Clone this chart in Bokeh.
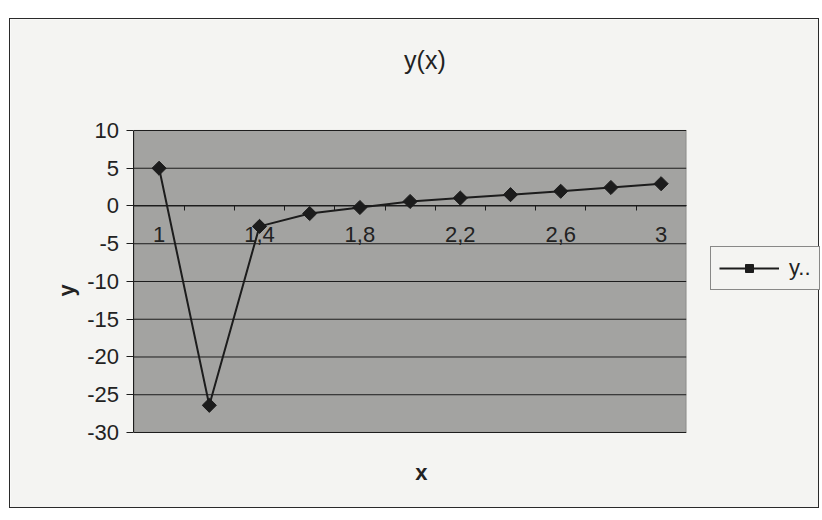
import math
from bokeh.plotting import figure
from bokeh.models import (Range1d, FixedTicker, Legend, LegendItem, Label,
                          BoxAnnotation, Spacer)
from bokeh.layouts import column, row
from bokeh.embed import file_html
from bokeh.resources import INLINE

# ---- data ----
x_vals = [1.0, 1.2, 1.4, 1.6, 1.8, 2.0, 2.2, 2.4, 2.6, 2.8, 3.0]
y_vals = [5.0, -26.4, -2.7, -1.0, -0.2, 0.6, 1.05, 1.5, 1.95, 2.45, 2.95]
x_label_ticks = [1.0, 1.4, 1.8, 2.2, 2.6, 3.0]
x_label_texts = ["1", "1,4", "1,8", "2,2", "2,6", "3"]
x_band_edges = [1.1, 1.3, 1.5, 1.7, 1.9, 2.1, 2.3, 2.5, 2.7, 2.9]
y_ticks = [-30, -25, -20, -15, -10, -5, 0, 5, 10]
y_tick_texts = ["-30", "-25", "-20", "-15", "-10", "-5", "0", "5", "10"]
plot_x_bounds = (0.9, 3.1)      # category bands: half a step either side
plot_y_bounds = (-30, 10)
series_name = "y.."
title_text = "y(x)"
x_title = "x"
y_title = "y"

FONT = "Liberation Sans"
BG = "#f4f4f2"
PLOT_BG = "#a3a3a1"
INK = "#1c1c1c"
TXT = "#222222"

# The frame spans the whole chart area; the grey plot area is drawn in data space
p = figure(width=810, height=490, output_backend="svg", toolbar_location=None,
           x_range=Range1d(0.408, 3.635), y_range=Range1d(-40.20, 24.70),
           min_border=0)
p.styles = {"border": "1px solid #2a2a2a"}
p.background_fill_color = BG
p.border_fill_color = BG
p.outline_line_color = None
p.xgrid.visible = False
p.ygrid.visible = False

p.add_layout(BoxAnnotation(left=plot_x_bounds[0], right=plot_x_bounds[1],
                           bottom=plot_y_bounds[0], top=plot_y_bounds[1],
                           fill_color=PLOT_BG, fill_alpha=1,
                           line_color="#333333", line_width=1,
                           level="underlay"))

# horizontal gridlines at the value-axis ticks
p.segment(x0=[plot_x_bounds[0]] * len(y_ticks), x1=[plot_x_bounds[1]] * len(y_ticks),
          y0=y_ticks, y1=y_ticks, line_color=INK, line_width=1)

# category axis crossing at y = 0
xa = p.xaxis[0]
xa.ticker = FixedTicker(ticks=x_label_ticks, minor_ticks=x_band_edges)
xa.major_label_overrides = {t: s for t, s in zip(x_label_ticks, x_label_texts)}
xa.fixed_location = 0
xa.bounds = plot_x_bounds
xa.axis_line_color = INK
xa.major_tick_out = 0
xa.major_tick_in = 0
xa.minor_tick_out = 5
xa.minor_tick_in = 0
xa.minor_tick_line_color = INK
xa.major_label_standoff = 16
xa.major_label_text_font = FONT
xa.major_label_text_font_size = "22px"
xa.major_label_text_color = TXT

# value axis on the left edge of the plot area
ya = p.yaxis[0]
ya.ticker = FixedTicker(ticks=y_ticks)
ya.major_label_overrides = {t: s for t, s in zip(y_ticks, y_tick_texts)}
ya.fixed_location = plot_x_bounds[0]
ya.bounds = plot_y_bounds
ya.axis_line_color = INK
ya.major_tick_out = 7
ya.major_tick_in = 0
ya.minor_tick_out = 0
ya.minor_tick_in = 0
ya.major_tick_line_color = INK
ya.major_label_standoff = 8
ya.major_label_text_font = FONT
ya.major_label_text_font_size = "22px"
ya.major_label_text_color = TXT

line = p.line(x_vals, y_vals, line_color=INK, line_width=2)
pts = p.scatter(x_vals, y_vals, marker="square", angle=math.pi / 4, size=10,
                fill_color=INK, line_color=INK)

legend = Legend(items=[LegendItem(label=series_name, renderers=[line, pts])],
                location=(700, 219), padding=8, margin=0,
                glyph_width=60, glyph_height=20, label_standoff=10,
                border_line_color=INK, border_line_width=1,
                background_fill_color=BG, background_fill_alpha=1,
                label_text_font=FONT, label_text_font_size="22px",
                label_text_color=TXT)
p.add_layout(legend, "center")

p.add_layout(Label(x=2.059, y=19.37, text=title_text, text_align="center",
                   text_baseline="alphabetic", text_font=FONT,
                   text_font_size="25px", text_color=TXT))
p.add_layout(Label(x=2.045, y=-35.3, text=x_title, text_align="center",
                   text_baseline="alphabetic", text_font=FONT,
                   text_font_size="22px", text_font_style="bold",
                   text_color=TXT))
p.add_layout(Label(x=0.631, y=-11.19, text=y_title, angle=math.pi / 2,
                   text_align="center", text_baseline="middle", text_font=FONT,
                   text_font_size="22px", text_font_style="bold",
                   text_color=TXT))

layout = column(Spacer(height=18, width=820), row(Spacer(width=9, height=492), p))
open("out.html", "w").write(file_html(layout, INLINE))
